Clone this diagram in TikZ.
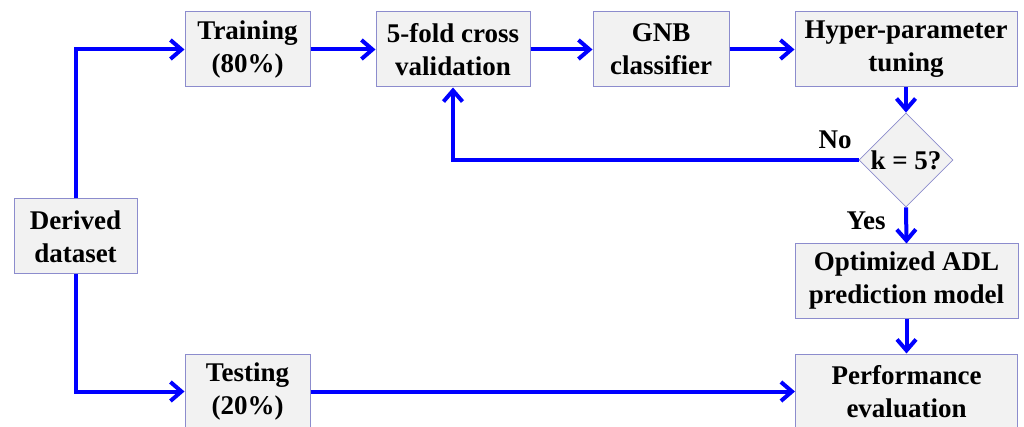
\documentclass[tikz,border=0pt]{standalone}
\usepackage{fontspec}
\setmainfont{Liberation Serif}
\usetikzlibrary{arrows.meta,shapes.geometric}
\definecolor{boxfill}{RGB}{242,242,242}
\definecolor{boxline}{RGB}{140,140,205}
\definecolor{flow}{RGB}{0,0,255}
\begin{document}
\begin{tikzpicture}[x=1pt,y=-1pt,
  every node/.style={font=\fontsize{27}{33}\selectfont\bfseries},
  box/.style={draw=boxline,fill=boxfill,line width=1pt,inner sep=0pt,
    align=center,minimum height=75pt},
  decbox/.style={draw=boxline,fill=boxfill,line width=0.8pt,shape=diamond,
    inner sep=0pt,minimum width=94pt,minimum height=94pt},
  flowline/.style={draw=flow,line width=4pt},
  arr/.style={flowline,-{Straight Barb[length=11pt,width=19pt]}}]
\useasboundingbox (0,0) rectangle (1024,427);

% process boxes
\node[box,minimum width=125pt] (train) at (247.5,49.5) {Training\\(80\%)};
\node[box,minimum width=154pt] (cv)    at (453,49.5)   {5-fold cross\\validation};
\node[box,minimum width=136pt] (gnb)   at (661,49.5)   {GNB\\classifier};
\node[box,minimum width=222pt] (hyper) at (906,49.5)   {Hyper-parameter\\tuning};
\node[decbox,label={center:k = 5?}] (dec) at (906,160) {};
\node[box,minimum width=223pt,minimum height=74pt] (opt) at (906.5,281) {Optimized ADL\\prediction model};
\node[box,minimum width=222pt] (perf)  at (906.5,391.5) {Performance\\evaluation};
\node[box,minimum width=125pt] (test)  at (247.5,391.5) {Testing\\(20\%)};
\node[box,minimum width=123pt] (data)  at (75.5,236.5)  {Derived\\dataset};

% connectors
\draw[arr] (data.north) |- (train.west);
\draw[arr] (data.south) |- (test.west);
\draw[arr] (train) -- (cv);
\draw[arr] (cv) -- (gnb);
\draw[arr] (gnb) -- (hyper);
\draw[arr] (hyper) -- (dec);
\draw[arr] (dec.west) -| (cv.south);
\draw[arr] (dec.south) -- (opt.north);
\draw[arr] (opt) -- (perf);
\draw[arr] (test.east) -- (test.east -| perf.west);

% branch labels
\node (no)  at (835,140) {No};
\node (yes) at (866,221) {Yes};
\end{tikzpicture}
\end{document}
